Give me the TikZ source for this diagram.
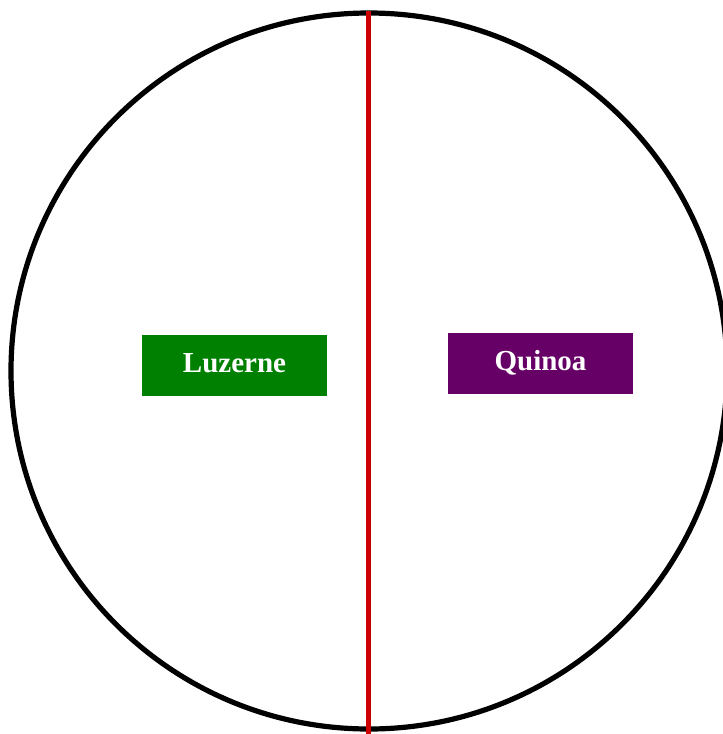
\documentclass[tikz,border=0pt]{standalone}
\usepackage{fontspec}
\setmainfont{Liberation Serif}
\definecolor{luzgreen}{HTML}{008000}
\definecolor{quipurple}{HTML}{660066}
\definecolor{divred}{HTML}{CC0000}
\tikzset{
    cropbox/.style={minimum width=185pt, minimum height=61pt, inner sep=0pt,
        text height=19pt, text depth=6pt, text=white,
        font=\fontsize{29}{29}\selectfont\bfseries}
}
\begin{document}
\begin{tikzpicture}[x=1pt, y=-1pt]
    \useasboundingbox (0,0) rectangle (723,734);
    \clip (0,0) rectangle (723,734);

    % field and its dividing line
    \coordinate (O) at (369,371);
    \draw[line width=5.2pt] (O) circle (358pt);
    \coordinate (T) at (368.5,11);
    \coordinate (B) at (368.5,734);
    \draw[divred, line width=5pt] (T) -- (B);

    % the two crops
    \node[cropbox, fill=luzgreen] (luzerne) at (234.5,365.5) {Luzerne};
    \node[cropbox, fill=quipurple] (quinoa) at (540.5,363.5) {Quinoa};
\end{tikzpicture}
\end{document}
